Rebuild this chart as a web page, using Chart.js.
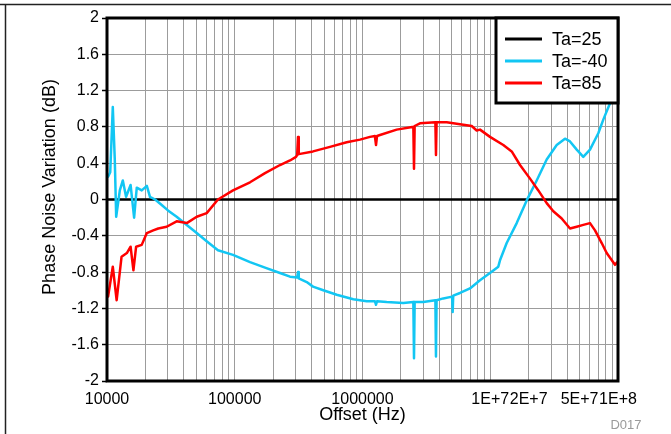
<!DOCTYPE html>
<html>
<head>
<meta charset="utf-8">
<script src="https://cdn.jsdelivr.net/npm/chart.js@4/dist/chart.umd.min.js"></script>
<style>
  html, body { margin: 0; padding: 0; background: #fff; }
  #wrap { width: 671px; height: 434px; position: relative; }
</style>
</head>
<body>
<div id="wrap"><canvas id="c" width="671" height="434"></canvas></div>
<script>
// ---- Data ----
const seriesLabels = ['Ta=25', 'Ta=-40', 'Ta=85'];

const freqTa25 = [10000, 100000000];
const valTa25  = [0, 0];

const freqTaM40 = [10200, 10600, 11100, 11500, 11800, 12600, 13300, 14100, 15300, 16300, 17100, 18700, 20500, 21700, 23800, 26800, 30000, 35100, 42100, 50400, 60300, 73900, 96900, 131700, 172500, 226100, 270700, 308000, 312700, 317000, 365900, 409800, 493400, 628100, 847200, 1079000, 1250000, 1276000, 1300000, 1547000, 2086000, 2500000, 2530000, 2560000, 2990000, 3720000, 3760000, 3800000, 4290000, 5030000, 5080000, 5130000, 5800000, 6940000, 8310000, 9950000, 11560000, 11920000, 13450000, 16110000, 19290000, 23100000, 27660000, 33130000, 38460000, 42100000, 47510000, 53500000, 60360000, 70110000, 76730000, 86590000, 100000000];
const valTaM40  = [0.25, 0.30, 1.02, 0.45, -0.19, 0.10, 0.21, 0.03, 0.16, -0.20, 0.13, 0.10, 0.15, 0.03, 0.00, -0.06, -0.12, -0.19, -0.28, -0.37, -0.46, -0.56, -0.61, -0.69, -0.75, -0.81, -0.85, -0.86, -0.80, -0.87, -0.91, -0.96, -1.00, -1.05, -1.10, -1.12, -1.12, -1.16, -1.12, -1.13, -1.14, -1.13, -1.75, -1.13, -1.13, -1.11, -1.73, -1.11, -1.09, -1.07, -1.24, -1.06, -1.03, -0.98, -0.89, -0.81, -0.74, -0.67, -0.48, -0.26, -0.01, 0.21, 0.44, 0.60, 0.67, 0.64, 0.55, 0.47, 0.55, 0.73, 0.88, 1.06, 1.28];

const freqTa85 = [10200, 11100, 11900, 13000, 14300, 15300, 16100, 16900, 18700, 20500, 23000, 25200, 29300, 35100, 42100, 50400, 60300, 73900, 96900, 131700, 172500, 226100, 270700, 301700, 308000, 312700, 317000, 409800, 556700, 752000, 955900, 1145000, 1250000, 1276000, 1300000, 1371000, 1852000, 2450000, 2500000, 2530000, 2560000, 2819000, 3720000, 3760000, 3800000, 4561000, 5797000, 7158000, 7833000, 8314000, 9954000, 12650000, 14720000, 17100000, 20480000, 23780000, 27660000, 31160000, 36250000, 42100000, 47510000, 53500000, 60360000, 66070000, 74560000, 81550000, 94740000, 100000000];
const valTa85  = [-1.07, -0.74, -1.11, -0.63, -0.59, -0.52, -0.78, -0.52, -0.50, -0.37, -0.34, -0.32, -0.30, -0.24, -0.26, -0.19, -0.15, 0.00, 0.10, 0.19, 0.29, 0.38, 0.43, 0.47, 0.49, 0.69, 0.50, 0.53, 0.58, 0.63, 0.66, 0.69, 0.70, 0.60, 0.70, 0.71, 0.77, 0.80, 0.80, 0.34, 0.81, 0.84, 0.85, 0.49, 0.85, 0.85, 0.83, 0.81, 0.76, 0.77, 0.69, 0.60, 0.53, 0.38, 0.23, 0.10, -0.04, -0.13, -0.21, -0.32, -0.30, -0.28, -0.26, -0.34, -0.48, -0.59, -0.72, -0.68];

// Tick positions / labels
const xGridValues = [10000, 20000, 30000, 40000, 50000, 60000, 70000, 80000, 90000,
  100000, 200000, 300000, 400000, 500000, 600000, 700000, 800000, 900000,
  1000000, 2000000, 3000000, 4000000, 5000000, 6000000, 7000000, 8000000, 9000000,
  10000000, 20000000, 30000000, 40000000, 50000000, 60000000, 70000000, 80000000, 90000000,
  100000000];
const xLabelValues = [10000, 100000, 1000000, 10000000, 20000000, 50000000, 100000000];
const xLabelTexts  = ['10000', '100000', '1000000', '1E+7', '2E+7', '5E+7', '1E+8'];
const yLabelValues = [2, 1.6, 1.2, 0.8, 0.4, 0, -0.4, -0.8, -1.2, -1.6, -2];

const colors = ['#000000', '#12c6f3', '#ff0000'];

function pts(fx, vy) { return fx.map((f, i) => ({ x: f, y: vy[i] })); }

const FONT = "'Liberation Sans', Arial, sans-serif";

function isYLabel(v) {
  return yLabelValues.some(l => Math.abs(l - v) < 1e-6);
}

// Frame lines, plot border, overlaid legend and D017 tag
const decorPlugin = {
  id: 'decor',
  beforeDraw(chart) {
    const ctx = chart.ctx;
    ctx.save();
    ctx.fillStyle = '#fff';
    ctx.fillRect(0, 0, chart.width, chart.height);
    ctx.strokeStyle = '#222';
    ctx.lineWidth = 1.5;
    ctx.beginPath();
    ctx.moveTo(0, 4.5); ctx.lineTo(chart.width, 4.5);
    ctx.moveTo(5.5, 4.5); ctx.lineTo(5.5, chart.height);
    ctx.stroke();
    ctx.restore();
  },
  afterDatasetsDraw(chart) {
    const a = chart.chartArea;
    const ctx = chart.ctx;
    ctx.save();
    ctx.strokeStyle = '#000';
    ctx.lineWidth = 3;
    ctx.strokeRect(a.left, a.top, a.right - a.left, a.bottom - a.top);
    ctx.restore();
  },
  afterDraw(chart) {
    const a = chart.chartArea;
    const ctx = chart.ctx;
    ctx.save();
    // legend box
    const bx = 496, by = a.top, bw = a.right - 496, bh = 85;
    ctx.fillStyle = '#fff';
    ctx.fillRect(bx, by, bw, bh);
    ctx.strokeStyle = '#000';
    ctx.lineWidth = 3;
    ctx.strokeRect(bx, by, bw, bh);
    ctx.font = '18px ' + FONT;
    ctx.textBaseline = 'middle';
    ctx.textAlign = 'left';
    chart.data.datasets.forEach((ds, i) => {
      const cy = by + 21 + i * 22;
      ctx.strokeStyle = ds.borderColor;
      ctx.lineWidth = 3;
      ctx.beginPath();
      ctx.moveTo(505, cy); ctx.lineTo(542, cy);
      ctx.stroke();
      ctx.fillStyle = '#000';
      ctx.fillText(ds.label, 552, cy + 1);
    });
    // tag
    ctx.font = '13px ' + FONT;
    ctx.fillStyle = '#9a9a9a';
    ctx.textAlign = 'center';
    ctx.fillText('D017', 626, 425);
    ctx.restore();
  }
};

new Chart(document.getElementById('c'), {
  type: 'line',
  data: {
    datasets: [
      { label: seriesLabels[0], data: pts(freqTa25, valTa25), borderColor: colors[0], borderWidth: 2.5, order: 3 },
      { label: seriesLabels[1], data: pts(freqTaM40, valTaM40), borderColor: colors[1], borderWidth: 2.5, order: 2 },
      { label: seriesLabels[2], data: pts(freqTa85, valTa85), borderColor: colors[2], borderWidth: 2.5, order: 1 }
    ]
  },
  options: {
    responsive: false,
    animation: false,
    devicePixelRatio: 1,
    elements: { point: { radius: 0 }, line: { tension: 0, borderJoinStyle: 'round', borderCapStyle: 'round' } },
    layout: { padding: { left: 0, top: 18, right: 53, bottom: 0 } },
    plugins: { legend: { display: false }, tooltip: { enabled: false } },
    scales: {
      x: {
        type: 'logarithmic',
        min: 10000,
        max: 100000000,
        afterBuildTicks(scale) { scale.ticks = xGridValues.map(v => ({ value: v })); },
        afterFit(scale) { scale.height = 53; },
        grid: { color: '#9c9c9c', lineWidth: 1, drawTicks: false },
        border: { display: false },
        ticks: {
          autoSkip: false, maxRotation: 0, minRotation: 0, padding: 9,
          color: '#000', font: { family: FONT, size: 16 },
          callback(value) {
            const k = xLabelValues.indexOf(value);
            return k >= 0 ? xLabelTexts[k] : '';
          }
        },
        title: { display: true, text: 'Offset (Hz)', color: '#000', font: { family: FONT, size: 18 }, padding: { top: 0, bottom: 8 } }
      },
      y: {
        type: 'linear',
        min: -2,
        max: 2,
        afterFit(scale) { scale.width = 107; },
        grid: {
          color: '#9c9c9c', lineWidth: 1, drawTicks: true, tickLength: 5, tickWidth: 1.5,
          tickColor: (ctx) => (ctx.tick && isYLabel(ctx.tick.value) ? '#000' : 'rgba(0,0,0,0)')
        },
        border: { display: false },
        ticks: {
          stepSize: 0.2, padding: 3, color: '#000', font: { family: FONT, size: 16 },
          callback(value) {
            const r = Math.round(value * 10) / 10;
            return isYLabel(r) ? String(r) : '';
          }
        },
        title: { display: true, text: '     Phase Noise Variation (dB)', color: '#000', font: { family: FONT, size: 18 }, padding: { top: 39, bottom: 0 } }
      }
    }
  },
  plugins: [decorPlugin]
});
</script>
</body>
</html>
